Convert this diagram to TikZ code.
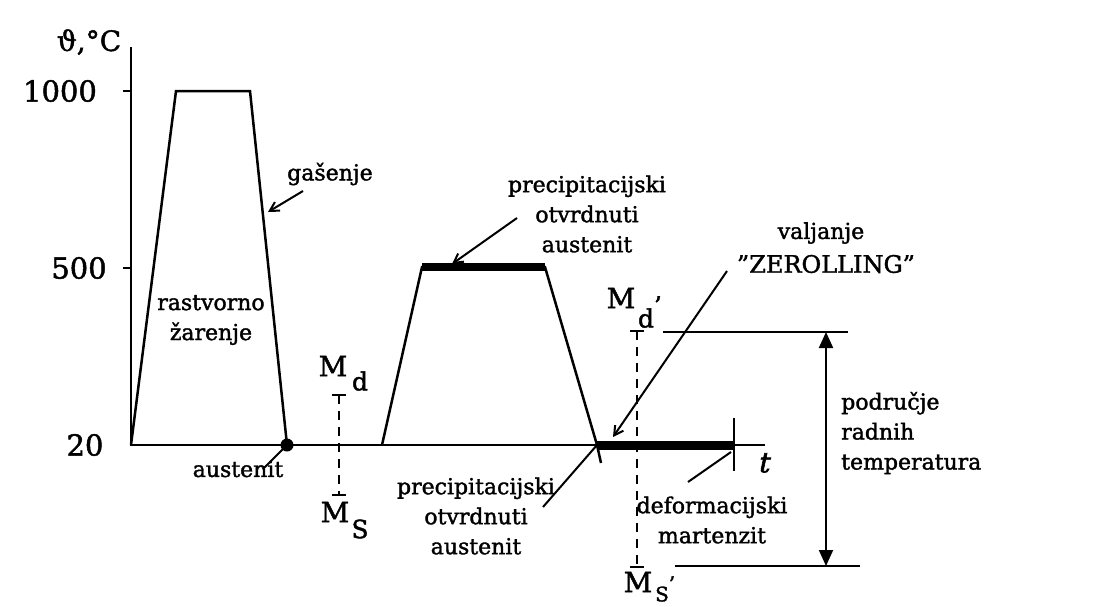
\documentclass[tikz,border=0pt]{standalone}
\usepackage{fontspec}
\setmainfont{DejaVu Serif}[BoldFont={DejaVu Serif},BoldFeatures={FakeBold=1.6},BoldItalicFont={DejaVu Serif},BoldItalicFeatures={FakeBold=2.2,FakeSlant=0.22}]
\usetikzlibrary{arrows.meta}
\begin{document}
\begin{tikzpicture}[x=1pt,y=-1pt,line width=2.5pt,
  lbl/.style={font=\fontsize{22}{30}\selectfont\bfseries,align=center,inner sep=0pt},
  axlbl/.style={font=\fontsize{29}{32}\selectfont\bfseries,inner sep=0pt},
  symb/.style={font=\fontsize{28}{30}\selectfont\bfseries,inner sep=0pt},
  subs/.style={font=\fontsize{25}{27}\selectfont\bfseries,inner sep=0pt},
  heavybar/.style={line width=9pt},
  leader/.style={line width=2pt},
  leadarrow/.style={line width=2pt,-{Straight Barb[length=9pt,width=10pt]}},
  dashv/.style={line width=2.2pt,dash pattern=on 9pt off 7pt},
  dimarrow/.style={line width=2pt,{Triangle[length=16pt,width=14pt]}-{Triangle[length=16pt,width=14pt]}}]
\useasboundingbox (0,0) rectangle (1105,606);
\fill[white] (0,0) rectangle (1105,606);
% axes
\coordinate (O) at (131,445);
\coordinate (ytop) at (131,47);
\coordinate (xend) at (765,445);
\draw (ytop) -- (O) -- (xend);
\coordinate (t1000) at (131,91);
\coordinate (t500) at (131,268);
\draw (t1000) -- ++(-8,0);
\draw (t500) -- ++(-8,0);
\node[axlbl] (l1000) at (60,91) {1000};
\node[axlbl] (l500) at (79,268) {500};
\node[axlbl] (l20) at (85,445) {20};
\node[axlbl,font=\fontsize{28}{30}\selectfont\bfseries] (ylab) at (89,42) {ϑ,°C};
\node[inner sep=0pt,font=\fontsize{28}{30}\selectfont\bfseries\itshape] (tlab) at (763,463) {t};
% first trapezoid
\coordinate (a1) at (176,91);
\coordinate (a2) at (250,91);
\coordinate (a3) at (287,445);
\draw (O) -- (a1) -- (a2) -- (a3);
\fill (a3) circle (6.5pt);
\node[lbl] (gas) at (330,174) {gašenje};
\coordinate (gasp) at (268,212);
\draw[leadarrow] (303,191) -- (gasp);
\node[lbl] (rast) at (211,320) {rastvorno\\žarenje};
\node[lbl] (aust1) at (238,469) {austenit};
\coordinate (aust1e) at (263,469);
\draw[leader] (a3) -- (aust1e);
% Md / Ms
\coordinate (md1) at (339,395);
\coordinate (ms1) at (339,495);
\draw[dashv] (md1) -- (ms1);
\draw (332,395) -- (346,395);
\draw (332,495) -- (346,495);
\node[symb] (Md) at (333,366) {M};
\node[subs] (Mdsub) at (360,381) {d};
\node[symb] (Ms) at (335,512) {M};
\node[subs] (Mssub) at (360,529) {S};
% second trapezoid
\coordinate (b0) at (382,445);
\coordinate (b1) at (422,267);
\coordinate (b2) at (545,267);
\coordinate (b3) at (597,445);
\coordinate (b4) at (601,463);
\draw (b0) -- (b1) -- (b2) -- (b3) -- (b4);
\draw[heavybar,line width=8pt] (b1) -- (b2);
\node[lbl] (prec1) at (587,214) {precipitacijski\\otvrdnuti\\austenit};
\coordinate (prec1p) at (452,264);
\draw[leadarrow] (517,218) -- (prec1p);
\node[lbl] (prec2) at (476,516) {precipitacijski\\otvrdnuti\\austenit};
\draw[leader] (543,507) -- (b3);
% bar at room temperature
\coordinate (c1) at (734,445);
\draw[heavybar] (b3) -- (c1);
\draw (734,418) -- (734,471);
\node[lbl] (def) at (712,520) {deformacijski\\martenzit};
\draw[leader] (688,482) -- (731,452);
% zerolling
\node[lbl] (valj) at (821,233) {valjanje};
\node[lbl,font=\fontsize{24}{28}\selectfont\bfseries] (zero) at (826,264) {"ZEROLLING"};
\coordinate (zs) at (727,271);
\coordinate (ze) at (613,437);
\draw[leadarrow] (zs) -- (ze);
% Md' / Ms'
\coordinate (md2) at (637,331);
\coordinate (ms2) at (637,567);
\draw[dashv] (md2) -- (ms2);
\draw (630,331) -- (644,331);
\draw (630,567) -- (644,567);
\node[symb] (Md2) at (621,298) {M};
\node[subs] (Md2sub) at (646,312) {d\rlap{\raisebox{1.0ex}{'}}};
\node[symb] (Ms2) at (638,582) {M};
\node[subs,font=\fontsize{20}{22}\selectfont\bfseries] (Ms2sub) at (662,589) {S\rlap{\raisebox{1.0ex}{'}}};
% working range
\coordinate (h1a) at (663,332);
\coordinate (h1b) at (848,332);
\coordinate (h2a) at (675,566);
\coordinate (h2b) at (860,566);
\draw (h1a) -- (h1b);
\draw (h2a) -- (h2b);
\coordinate (r1) at (826,332);
\coordinate (r2) at (826,566);
\draw[dimarrow] (r1) -- (r2);
\node[lbl,align=left,anchor=west] (pod) at (840,433) {područje\\radnih\\temperatura};
\end{tikzpicture}
\end{document}
